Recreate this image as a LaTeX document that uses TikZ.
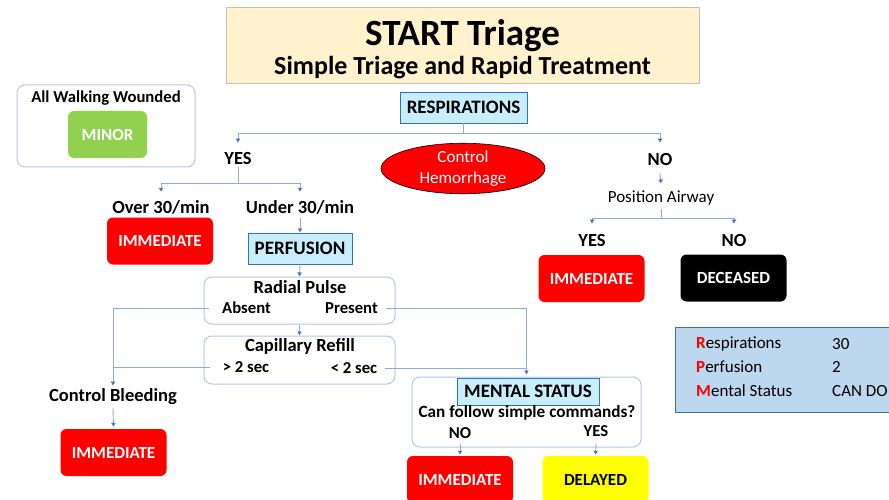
\documentclass[tikz,border=0pt]{standalone}
\usepackage{fontspec}
\setmainfont{Carlito}
\usetikzlibrary{arrows.meta,shapes.geometric}
\definecolor{ttlfill}{HTML}{FFF2CC}
\definecolor{ttldraw}{HTML}{BFBFBF}
\definecolor{hdrfill}{HTML}{C9EEFB}
\definecolor{hdrdraw}{HTML}{2E75B6}
\definecolor{lineclr}{HTML}{8FAADC}
\definecolor{arrclr}{HTML}{4472C4}
\definecolor{rboxdraw}{HTML}{B4C7E7}
\definecolor{immred}{HTML}{FF0000}
\definecolor{minorgreen}{HTML}{92D050}
\definecolor{delayyellow}{HTML}{FFFF00}
\definecolor{infofill}{HTML}{BDD7EE}
\definecolor{infodraw}{HTML}{41719C}
\tikzset{
  b17/.style={font=\fontsize{18.5}{22}\selectfont\bfseries, inner sep=1pt},
  b15/.style={font=\fontsize{16.7}{20}\selectfont\bfseries, inner sep=1pt},
  r15/.style={font=\fontsize{17}{20}\selectfont, inner sep=1pt},
  cat/.style={rounded corners=6pt, minimum width=106pt, minimum height=47pt, inner sep=0pt,
    font=\fontsize{17}{20}\selectfont\bfseries, text=white, fill=immred},
  hdr/.style={draw=hdrdraw, fill=hdrfill, line width=0.9pt, inner sep=0pt,
    font=\fontsize{19}{22}\selectfont\bfseries},
  rbox/.style={draw=rboxdraw, fill=white, line width=1pt, rounded corners=8pt, inner sep=0pt},
  conn/.style={draw=lineclr, line width=0.9pt, -{Latex[length=4pt,width=5pt,color=arrclr]}},
  plain/.style={draw=lineclr, line width=0.9pt},
}
\begin{document}
\begin{tikzpicture}[x=1pt,y=-1pt]
\useasboundingbox (0,0) rectangle (889,500);
\fill[white] (0,0) rectangle (889,500);

% title
\node[draw=ttldraw, fill=ttlfill, line width=0.8pt, minimum width=473pt, minimum height=76pt, inner sep=0pt] (title) at (462.5,45) {};
\node[font=\fontsize{37}{40}\selectfont\bfseries, inner sep=0pt] (ttl1) at (462.5,36) {START Triage};
\node[font=\fontsize{26}{30}\selectfont\bfseries, inner sep=0pt] (ttl2) at (462.5,67.5) {Simple Triage and Rapid Treatment};

% walking wounded
\node[rbox, minimum width=178pt, minimum height=82pt] (walk) at (106,126) {};
\node[b15] (walktxt) at (106,98) {All Walking Wounded};
\node[cat, fill=minorgreen, minimum width=79pt] (minor) at (107.5,134.5) {MINOR};

% respirations
\node[hdr, minimum width=127pt, minimum height=31pt] (resp) at (463.5,107.5) {RESPIRATIONS};
\coordinate (rj) at (463.5,133);
\node[b17] (yes1) at (238,158) {YES};
\node[b17] (no1) at (660,159) {NO};
\draw[plain] (resp.south) -- (rj);
\draw[conn] (rj) -| ([yshift=8pt]yes1.north);
\draw[conn] (rj) -| ([yshift=9pt]no1.north);

% hemorrhage
\node[ellipse, draw=black, line width=0.6pt, fill=immred, minimum width=164pt, minimum height=48pt, inner sep=0pt,
  text=white, align=center, font=\fontsize{17}{21}\selectfont] (hem) at (463,168.5) {Control\\Hemorrhage};

% YES branch
\coordinate (yj) at (238,183);
\node[b17] (over) at (161,207) {Over 30/min};
\node[b17] (under) at (300,207) {Under 30/min};
\draw[plain] ([yshift=-2pt]yes1.south) -- (yj);
\draw[conn] (yj) -| ([yshift=7pt]over.north);
\draw[conn] (yj) -| ([yshift=7pt]under.north);
\node[cat] (imm1) at (160,241) {IMMEDIATE};

\node[hdr, minimum width=104pt, minimum height=31pt] (perf) at (300,248.5) {PERFUSION};
\draw[conn] ([yshift=-3pt]under.south) -- (perf.north);

% radial pulse
\node[rbox, minimum width=191pt, minimum height=47pt] (radial) at (299.5,300.5) {};
\node[b17] (radtxt) at (300,287) {Radial Pulse};
\node[b15] (absent) at (246.5,308) {Absent};
\node[b15] (present) at (351.5,308) {Present};
\draw[conn] (perf.south) -- (radial.north);

% capillary refill
\node[rbox, minimum width=191pt, minimum height=48pt] (cap) at (299.5,360) {};
\node[b17] (captxt) at (300,346) {Capillary Refill};
\node[b15] (gt) at (246,367) {> 2 sec};
\node[b15] (lt) at (354,368) {< 2 sec};
\draw[conn] (radial.south) -- (cap.north);

% control bleeding
\coordinate (cbj) at (113,367);
\node[b17] (cb) at (113,397) {Control Bleeding};
\draw[conn] ([xshift=-12pt]absent.west) -| ([yshift=2pt]cb.north);
\draw[plain] ([xshift=-12pt]gt.west |- gt.center) -- (cbj);
\node[cat] (imm2) at (113.5,452.5) {IMMEDIATE};
\draw[conn] ([yshift=-2pt]cb.south) -- ([yshift=2pt]imm2.north);

% mental status
\node[rbox, minimum width=229pt, minimum height=70pt] (ment) at (526.5,412) {};
\coordinate (mj) at (527,368);
\draw[conn] ([xshift=7pt]present.east) -| ([yshift=2pt]ment.north);
\draw[plain] ([xshift=7pt]lt.east) -- (mj);
\node[hdr, minimum width=142pt, minimum height=27pt] (menthdr) at (528,391.5) {MENTAL STATUS};
\node[font=\fontsize{17.2}{20}\selectfont\bfseries, inner sep=1pt] (cmd) at (527,413) {Can follow simple commands?};
\node[b15] (no3) at (460,433) {NO};
\node[b15] (yes3) at (596,431) {YES};
\node[cat] (imm4) at (460,479.5) {IMMEDIATE};
\node[cat, fill=delayyellow, text=black] (delayed) at (595.5,479.5) {DELAYED};
\draw[conn] ([yshift=4pt]no3.south |- ment.south) -- ([yshift=1pt]imm4.north);
\draw[conn] ([yshift=4pt]yes3.south |- ment.south) -- ([yshift=1pt]delayed.north);

% NO branch
\node[r15] (airway) at (661,198) {Position Airway};
\draw[conn] ([yshift=-7pt]no1.south) -- ([yshift=6pt]airway.north);
\coordinate (aj) at (661,218);
\node[b17] (yes2) at (592,240) {YES};
\node[b17] (no2) at (734,240) {NO};
\draw[plain] ([yshift=-3pt]airway.south) -- (aj);
\draw[conn] (aj) -| ([yshift=9pt]yes2.north);
\draw[conn] (aj) -| ([yshift=9pt]no2.north);
\node[cat] (imm3) at (591.5,278.5) {IMMEDIATE};
\node[cat, fill=black] (dec) at (733.5,278) {DECEASED};

% info box
\node[draw=infodraw, fill=infofill, line width=0.8pt, minimum width=220pt, minimum height=85pt, inner sep=0pt] (info) at (785,369.5) {};
\node[r15, anchor=west] (i1) at (695,344) {\textcolor{immred}{\bfseries R}espirations};
\node[r15, anchor=west] (i2) at (695,367) {\textcolor{immred}{\bfseries P}erfusion};
\node[r15, anchor=west] (i3) at (695,391) {\textcolor{immred}{\bfseries M}ental Status};
\node[r15, anchor=west] (v1) at (831,344) {30};
\node[r15, anchor=west] (v2) at (831,367) {2};
\node[r15, anchor=west] (v3) at (831,391) {CAN DO};
\end{tikzpicture}
\end{document}
